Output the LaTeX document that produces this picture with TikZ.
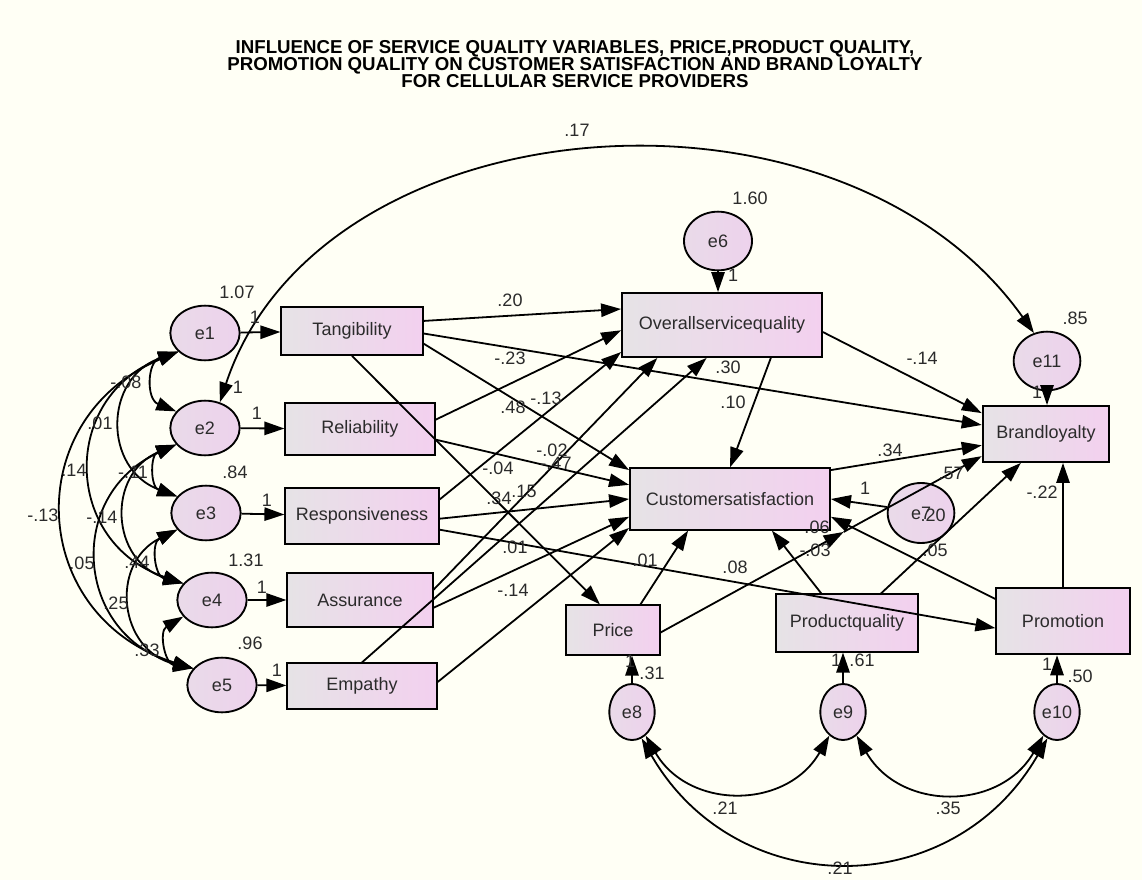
\documentclass[tikz,border=0pt]{standalone}
\usepackage{fontspec}
\setmainfont{Liberation Sans}
\usepackage{xcolor}
\usetikzlibrary{arrows.meta,shapes.geometric,calc}
\definecolor{bg}{HTML}{FFFFF5}
\definecolor{pk}{HTML}{F3D0EF}
\definecolor{gy}{HTML}{E6E3E6}
\definecolor{el}{HTML}{EDD2EC}
\definecolor{tx}{HTML}{2B2B2B}

\begin{document}
\begin{tikzpicture}[x=0.75pt,y=-0.75pt,>={Triangle[length=15pt,width=10pt]}]
          \tikzstyle{every node}=[font=\fontsize{13.5}{15}\selectfont,text=tx]
          \tikzstyle{obs}=[draw=black,line width=1.4pt,rectangle,left color=gy,right color=pk,inner sep=0pt]
          \tikzstyle{err}=[draw=black,line width=1.4pt,ellipse,left color=gy!50!el,right color=el,inner sep=0pt,minimum width=52pt,minimum height=41pt]
          \tikzstyle{reg}=[->,line width=1.35pt]
          \tikzstyle{cov}=[<->,line width=1.35pt]
          \tikzstyle{lbl}=[inner sep=0pt]
          \fill[bg] (0,0) rectangle (1142,880);
          \useasboundingbox (0,0) rectangle (1142,880);
          \node[align=center,font=\bfseries\fontsize{14}{12.75}\selectfont,text=black] (title) at (575,64) {INFLUENCE OF SERVICE QUALITY VARIABLES, PRICE,PRODUCT QUALITY,\\PROMOTION QUALITY ON CUSTOMER SATISFACTION AND BRAND LOYALTY\\FOR CELLULAR SERVICE PROVIDERS};
          % variables
          \node[err] (e1) at (205,333) {e1};
          \node[err] (e2) at (205,428) {e2};
          \node[err] (e3) at (206,513) {e3};
          \node[err] (e4) at (212,600) {e4};
          \node[err] (e5) at (222,685) {e5};
          \node[obs,minimum width=106pt,minimum height=36pt] (tan) at (352,331) {Tangibility};
          \node[obs,minimum width=112pt,minimum height=39pt] (rel) at (360,429) {Reliability};
          \node[obs,minimum width=115pt,minimum height=42pt] (res) at (362,516) {Responsiveness};
          \node[obs,minimum width=109pt,minimum height=40pt] (ass) at (360,600) {Assurance};
          \node[obs,minimum width=112pt,minimum height=34pt] (emp) at (362,686) {Empathy};
          \node[obs,minimum width=150pt,minimum height=48pt] (osq) at (722,325) {Overallservicequality};
          \node[err,minimum width=51pt,minimum height=44pt] (e6) at (718,241) {e6};
          \node[obs,minimum width=150pt,minimum height=46pt] (cs) at (730,499) {Customersatisfaction};
          \node[err,minimum width=50pt,minimum height=45pt] (e7) at (921,513) {e7};
          \node[obs,minimum width=95pt,minimum height=42pt] (bl) at (1046,434) {Brandloyalty};
          \node[err,minimum width=50pt,minimum height=44pt] (e11) at (1047,361) {e11};
          \node[obs,minimum width=70pt,minimum height=37pt] (pri) at (613,630) {Price};
          \node[obs,minimum width=106pt,minimum height=43pt] (pq) at (847,623) {Productquality};
          \node[obs,minimum width=100pt,minimum height=50pt] (pro) at (1063,621) {Promotion};
          \node[err,minimum width=34pt,minimum height=42pt] (e8) at (632,712) {e8};
          \node[err,minimum width=34pt,minimum height=42pt] (e9) at (843,712) {e9};
          \node[err,minimum width=34pt,minimum height=42pt] (e10) at (1057,712) {e10};
          % paths
          \draw[reg] (e1) -- (tan);
          \draw[reg] (e2) -- (rel);
          \draw[reg] (e3) -- (res);
          \draw[reg] (e4) -- (ass);
          \draw[reg] (e5) -- (emp);
          \draw[reg] (tan.8) -- (osq.171);
          \draw[reg] (rel.7) -- (osq.183);
          \draw[reg] (res.12) -- (osq.195);
          \draw[reg] (ass.8) -- (osq.207);
          \draw[reg] (emp.north) -- (osq.245);
          \draw[reg] (tan.350) -- (cs.164);
          \draw[reg] (rel.352) -- (cs.172);
          \draw[reg] (res.358) -- (cs.180);
          \draw[reg] (ass.354) -- (cs.190);
          \draw[reg] (emp.3) -- (cs.196);
          \draw[reg] (tan.358) -- (bl.172);
          \draw[reg] (tan.south) -- (pri.117);
          \draw[reg] (res.350) -- (pro.186);
          \draw[reg] (osq.326) -- (cs.north);
          \draw[reg] (osq.356) -- (bl.162);
          \draw[reg] (cs.16) -- (bl.190);
          \draw[reg] (pri.43) -- (cs.217);
          \coordinate (pmid) at ($(pri.357)!0.57!(bl.199)$);
          \draw[reg] (pri.357) -- (pmid);
          \draw[reg] (pmid) -- (bl.199);
          \draw[reg] (pq.131) -- (cs.323);
          \draw[reg] (pq.41) -- (bl.229);
          \draw[reg] (pro.162) -- (cs.350);
          \draw[reg] (pro.north) -- (pro.north |- bl.south);
          \draw[reg] (e7.170) -- (cs.east);
          \draw[reg] (e6.south) -- (e6.south |- osq.north);
          \draw[reg] (e11.south) -- (e11.south |- bl.north);
          \draw[reg] (e8.north) -- (e8.north |- pri.south);
          \draw[reg] (e9.north) -- (e9.north |- pq.south);
          \draw[reg] (e10.north) -- (e10.north |- pro.south);
          % covariances
          \draw[cov] (e1.215) to[bend right=70,looseness=1.4] (e2.150);
          \draw[cov] (e1.215) to[bend right=70,looseness=1.4] (e3.150);
          \draw[cov] (e1.215) to[bend right=70,looseness=1.4] (e4.150);
          \draw[cov] (e1.215) to[bend right=70,looseness=1.4] (e5.150);
          \draw[cov] (e2.210) to[bend right=70,looseness=1.4] (e3.150);
          \draw[cov] (e2.210) to[bend right=70,looseness=1.4] (e4.150);
          \draw[cov] (e2.210) to[bend right=70,looseness=1.4] (e5.150);
          \draw[cov] (e3.210) to[bend right=70,looseness=1.4] (e4.150);
          \draw[cov] (e3.210) to[bend right=70,looseness=1.4] (e5.150);
          \draw[cov] (e4.210) to[bend right=70,looseness=1.4] (e5.150);
          \draw[cov] (e2.60) .. controls (320,100) and (840,60) .. (e11.115);
          \draw[cov] (e8.-60) to[bend right=60,looseness=1.2] (e9.240);
          \draw[cov] (e9.-60) to[bend right=60,looseness=1.2] (e10.240);
          \draw[cov] (e8.-70) to[bend right=60,looseness=1.2] (e10.250);
          % estimates
          \node[lbl] (v1) at (237,292) {1.07};
          \node[lbl] (w1) at (255,317) {1};
          \node[lbl] (v2) at (238,387) {1};
          \node[lbl] (w2) at (257,413) {1};
          \node[lbl] (v3) at (235,472) {.84};
          \node[lbl] (w3) at (267,500) {1};
          \node[lbl] (v4) at (246,560) {1.31};
          \node[lbl] (w4) at (262,587) {1};
          \node[lbl] (v5) at (250,643) {.96};
          \node[lbl] (w5) at (277,670) {1};
          \node[lbl] (c12) at (126,382) {-.08};
          \node[lbl] (c13) at (100,423) {.01};
          \node[lbl] (c14) at (74,470) {.14};
          \node[lbl] (c15) at (43,515) {-.13};
          \node[lbl] (c23) at (133,472) {-.11};
          \node[lbl] (c24) at (102,517) {-.14};
          \node[lbl] (c25) at (82,563) {.05};
          \node[lbl] (c34) at (137,562) {.44};
          \node[lbl] (c35) at (116,603) {.25};
          \node[lbl] (c45) at (147,650) {.33};
          \node[lbl] (b1) at (510,300) {.20};
          \node[lbl] (b2) at (510,358) {-.23};
          \node[lbl] (b3) at (513,407) {.48};
          \node[lbl] (b4) at (546,398) {-.13};
          \node[lbl] (b5) at (552,450) {-.02};
          \node[lbl] (b6) at (556,463) {-.47};
          \node[lbl] (b7) at (498,468) {-.04};
          \node[lbl] (b8) at (499,498) {.34};
          \node[lbl] (b9) at (524,491) {.15};
          \node[lbl] (b10) at (515,547) {.01};
          \node[lbl] (b11) at (513,590) {-.14};
          \node[lbl] (b12) at (728,367) {.30};
          \node[lbl] (b13) at (733,402) {.10};
          \node[lbl] (b14) at (922,358) {-.14};
          \node[lbl] (b15) at (890,450) {.34};
          \node[lbl] (w7) at (865,488) {1};
          \node[lbl] (v7) at (933,515) {.20};
          \node[lbl] (b16) at (817,527) {.06};
          \node[lbl] (b17) at (815,550) {-.03};
          \node[lbl] (b18) at (935,550) {.05};
          \node[lbl] (b19) at (951,473) {.57};
          \node[lbl] (b20) at (645,560) {.01};
          \node[lbl] (b21) at (735,567) {.08};
          \node[lbl] (b22) at (1042,492) {-.22};
          \node[lbl] (v11) at (1075,318) {.85};
          \node[lbl] (w11) at (1037,392) {1};
          \node[lbl] (v6) at (750,198) {1.60};
          \node[lbl] (w6) at (733,275) {1};
          \node[lbl] (cbig) at (577,130) {.17};
          \node[lbl] (v8) at (652,673) {.31};
          \node[lbl] (w8) at (630,661) {1};
          \node[lbl] (v9) at (862,660) {.61};
          \node[lbl] (w9) at (836,660) {1};
          \node[lbl] (v10) at (1080,676) {.50};
          \node[lbl] (w10) at (1047,664) {1};
          \node[lbl] (c89) at (725,808) {.21};
          \node[lbl] (c910) at (948,808) {.35};
          \node[lbl] (c810) at (840,868) {.21};
        \end{tikzpicture}
\end{document}
